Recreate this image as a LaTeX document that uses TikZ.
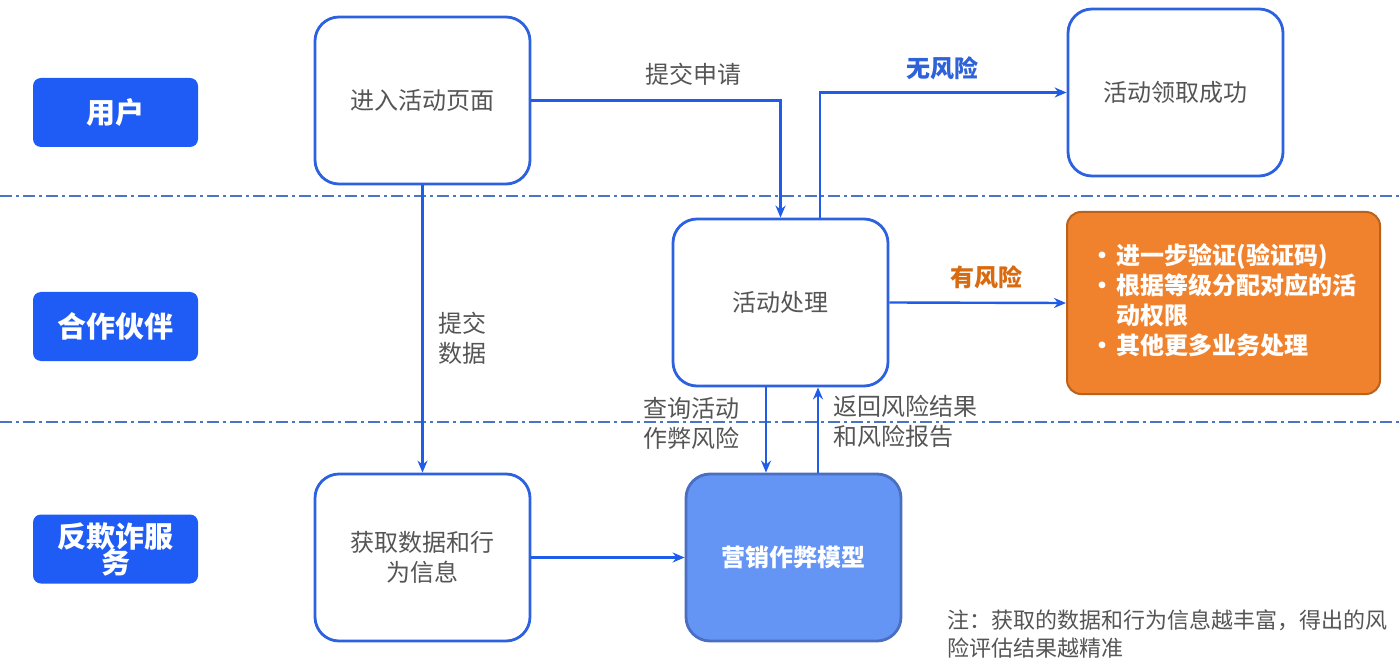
\documentclass[tikz,border=0pt]{standalone}
\usepackage{fontspec}
\setmainfont{Noto Sans CJK SC}
\usetikzlibrary{arrows.meta,calc}
\definecolor{lanefill}{HTML}{1F5CF5}
\definecolor{boxline}{HTML}{2C62E0}
\definecolor{txtgray}{HTML}{555555}
\definecolor{arrblue}{HTML}{1F5CE8}
\definecolor{dashblue}{HTML}{4A74C4}
\definecolor{orfill}{HTML}{F0822E}
\definecolor{orline}{HTML}{B8621E}
\definecolor{modfill}{HTML}{6495F5}
\definecolor{modline}{HTML}{4A6EC0}
\definecolor{noriskc}{HTML}{2E62D8}
\definecolor{riskc}{HTML}{D86A10}
\tikzset{
  lane/.style={fill=lanefill, draw=none, rounded corners=4pt, minimum width=82.5pt, minimum height=34.5pt, text=white, font=\fontsize{14.5}{16}\selectfont\bfseries, align=center, inner sep=0pt},
  stepbox/.style={draw=boxline, line width=1.4pt, fill=white, rounded corners=12pt, minimum width=107.5pt, minimum height=83.5pt, text=txtgray, font=\fontsize{12}{15}\selectfont, align=center, inner sep=2pt},
  modelbox/.style={stepbox, fill=modfill, draw=modline, text=white, font=\fontsize{12}{15}\selectfont\bfseries},
  orbox/.style={draw=orline, line width=1pt, fill=orfill, rounded corners=7pt, minimum width=156.5pt, minimum height=91pt, text=white, font=\fontsize{12}{15}\selectfont\bfseries, align=left, inner sep=0pt},
  arr/.style={draw=arrblue, line width=1.2pt, -{Stealth[length=6pt,width=5pt]}},
  lbl/.style={text=txtgray, font=\fontsize{12}{15}\selectfont, inner sep=0pt},
  sep/.style={draw=dashblue, line width=0.8pt, dash pattern=on 6pt off 2pt on 1.5pt off 2pt},
}
\begin{document}
\begin{tikzpicture}[x=0.5pt,y=-0.5pt]
\useasboundingbox (0,0) rectangle (1400,662);
% separators
\draw[sep] (0,196) -- (1400,196);
\draw[sep] (0,422) -- (1400,422);
% lanes
\node[lane] (L1) at (115.5,112.5) {用户};
\node[lane] (L2) at (115.5,326.5) {合作伙伴};
\node[lane] (L3) at (115.5,549) {反欺诈服\\[-3pt]务};
% boxes
\node[stepbox] (A) at (422.5,100.5) {进入活动页面};
\node[stepbox] (B) at (1175.5,92.5) {活动领取成功};
\node[stepbox] (C) at (780.5,302.5) {活动处理};
\node[stepbox] (D) at (422.5,557.5) {获取数据和行\\为信息};
\node[modelbox] (E) at (793.5,557.5) {营销作弊模型};
\node[orbox] (F) at (1223.5,303) {\begin{tabular}{@{}l@{\hspace{1pt}}l@{}}•&进一步验证(验证码)\\•&根据等级分配对应的活\\&动权限\\•&其他更多业务处理\end{tabular}};
% connectors
\draw[arr] (A.east) -| (C.north);
\draw[arr] ([xshift=19.75pt]C.north) |- (B.west);
\draw[arr] (C.east) -- (F.west);
\draw[arr] (A.south) -- (D.north);
\draw[arr] ([xshift=-7.25pt]C.south) -- ([xshift=-7.25pt]C.south |- E.north);
\draw[arr] ([xshift=18.75pt]C.south |- E.north) -- ([xshift=18.75pt]C.south);
\draw[arr] (D.east) -- (E.west);
% labels
\node[lbl] (t1) at (693,74) {提交申请};
\node[lbl, text=noriskc, font=\fontsize{12}{15}\selectfont\bfseries] (t2) at (942,68) {无风险};
\node[lbl, text=riskc, font=\fontsize{12}{15}\selectfont\bfseries] (t3) at (986,277) {有风险};
\node[lbl, anchor=west, align=left] (t4) at (438,338) {提交\\数据};
\node[lbl, anchor=east, align=left] (t5) at (740,423) {查询活动\\作弊风险};
\node[lbl, anchor=west, align=left] (t6) at (833,421) {返回风险结果\\和风险报告};
\node[lbl, anchor=west, align=left, font=\fontsize{11}{14}\selectfont] (t7) at (947,634) {注：获取的数据和行为信息越丰富，得出的风\\险评估结果越精准};
\end{tikzpicture}
\end{document}
